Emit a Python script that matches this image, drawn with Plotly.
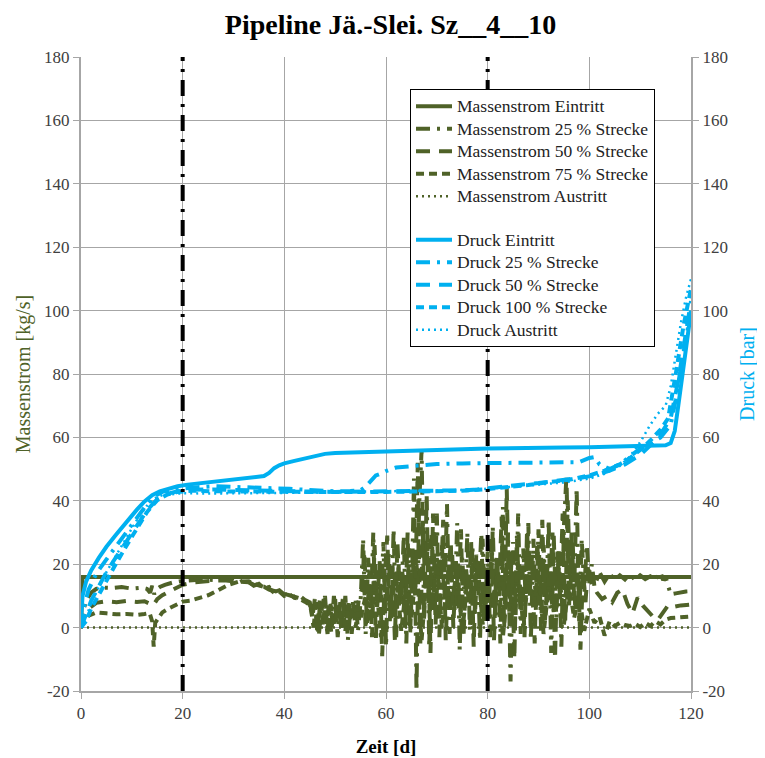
import plotly.graph_objects as go

OLIVE = "#4F6228"
BLUE = "#00B0F0"

# ---------------- data ----------------
ms_ein_t = [0, 0.3, 120]
ms_ein_v = [0, 16, 16]

ms_aus_t = [0, 120]
ms_aus_v = [0, 0]

ms25_t = [0, 0.4, 1, 2, 3, 4, 6, 8, 10, 12, 13, 13.6, 14, 14.4, 14.8, 15.5, 16.5, 18, 20, 22, 24, 26, 28, 30,
          31, 32, 33, 34, 35, 36, 37, 38, 39, 40, 41, 42, 43, 44, 45,
          45.5, 46, 46.5, 47, 47.5, 48, 48.5, 49, 49.5, 50, 50.5, 51, 51.5, 52, 52.5, 53, 53.5, 54, 54.5, 55,
          55.5, 56, 56.5, 57, 57.5, 58, 58.5, 59, 59.5, 60, 60.5, 61, 61.5, 62, 62.5, 63, 63.5, 64, 64.5, 65,
          65.5, 66, 66.5, 67, 67.5, 68, 68.5, 69, 69.5, 70, 70.5, 71, 71.5, 72, 72.5, 73, 73.5, 74, 74.5, 75,
          75.5, 76, 76.5, 77, 77.5, 78, 78.5, 79, 79.5, 80, 80.5, 81, 81.5, 82, 82.5, 83, 83.5, 84, 84.5, 85,
          85.5, 86, 86.5, 87, 87.5, 88, 88.5, 89, 89.5, 90, 90.5, 91, 91.5, 92, 92.5, 93, 93.5, 94, 94.5, 95,
          95.5, 96, 96.5, 97, 97.5, 98, 98.5, 99, 99.5, 100,
          100.5, 101, 102, 103, 104, 105, 106, 107, 108, 109, 110, 111, 112, 113, 114, 114.5, 115,
          116, 117, 118, 119, 120]
ms25_v = [0, 5, 8.5, 11, 12.2, 12.6, 12.5, 12.8, 12.3, 12.6, 12.2, 11.0, 13.2, 10.5, 12.0, 12.8, 13.5, 14.2, 14.7, 15.0, 15.2, 15.0, 15.1, 14.8,
          14.2, 14.9, 14.3, 13.2, 13.8, 12.4, 12.8, 11.2, 11.8, 10.4, 10.9, 9.6, 10.1, 8.8, 8.0,
          3, 9, -2, 7, 1, 10, -1, 6, 2, 9, -3, 8, 0, 10, -4, 6, 3, 9, -1, 8,
          28, -2, 22, 5, 30, -4, 18, 8, 27, -6, 24, 3, 31, -3, 20, 9, 29, -5, 25, 4,
          47, -20, 38, 56, 2, 42, -6, 30, 6, 36, -3, 26, 8, 39, -2, 24, 5, 33, -7, 22,
          7, 30, -1, 26, 4, 20, -4, 28, 6, 24, -3, 32, 3, 22, -5, 38, 6, 30, -17, 27,
          4, 36, -2, 25, 9, 33, -4, 28, 5, 31, -1, 26, 7, 34, -8, 29, 3, 25, -6, 32,
          48, 6, 30, 10, 44, 2, 28, 12, 26, 14,
          20, 13, 17.5, 14.5, 17, 15, 16.5, 15.2, 17, 15, 16.5, 15.3, 16.2, 15.2, 17.5, 15, 16,
          10.5, 10.8, 11.2, 11.4, 11.5]

ms50_t = [0, 0.5, 1.5, 3, 5, 7, 9, 11, 12.5, 13.5, 14.2, 15, 16, 17.5, 19, 20, 22, 24, 26, 28, 30, 32, 33,
          34, 35, 36, 37, 38, 39, 40, 41, 42, 43, 44, 45,
          45.25, 45.75, 46.25, 46.75, 47.25, 47.75, 48.25, 48.75, 49.25, 49.75, 50.25, 50.75, 51.25, 51.75,
          52.25, 52.75, 53.25, 53.75, 54.25, 54.75,
          55.25, 55.75, 56.25, 56.75, 57.25, 57.75, 58.25, 58.75, 59.25, 59.75, 60.25, 60.75, 61.25, 61.75,
          62.25, 62.75, 63.25, 63.75, 64.25, 64.75, 65.25, 65.75, 66.25, 66.75, 67.25, 67.75, 68.25, 68.75,
          69.25, 69.75, 70.25, 70.75, 71.25, 71.75, 72.25, 72.75, 73.25, 73.75, 74.25, 74.75, 75.25, 75.75,
          76.25, 76.75, 77.25, 77.75, 78.25, 78.75, 79.25, 79.75, 80.25, 80.75, 81.25, 81.75, 82.25, 82.75,
          83.25, 83.75, 84.25, 84.75, 85.25, 85.75, 86.25, 86.75, 87.25, 87.75, 88.25, 88.75, 89.25, 89.75,
          90.25, 90.75, 91.25, 91.75, 92.25, 92.75, 93.25, 93.75, 94.25, 94.75, 95.25, 95.75, 96.25, 96.75,
          97.25, 97.75, 98.25, 98.75, 99.25, 99.75,
          100.5, 101.5, 102.5, 103.5, 104.5, 105.5, 106.5, 107.5, 108.5, 109.5, 110.5, 111.5, 112.5, 113.5,
          114.5, 115.5, 116.5, 118, 120]
ms50_v = [0, 3, 6, 7.8, 8.3, 8.0, 8.4, 8.1, 8.3, 7.6, 7.0, 9.0, 10.2, 11.5, 12.8, 13.5, 14.2, 14.6, 14.8, 14.9, 14.7, 14.6, 14.3,
          13.5, 13.0, 12.9, 12.0, 11.6, 11.0, 10.6, 10.2, 9.8, 9.3, 8.6, 7.5,
          6, 0, 8, -3, 5, 9, 1, 7, -2, 10, 3, 6, -1, 8, 2, 9, -2, 7, 4, 10,
          12, 24, 1, 18, -3, 26, 6, 21, -9, 16, 29, 2, 19, -4, 27, 7, 17, 0, 30, -2, 21, 10, 52, -5, 34, 11, 28, -8,
          36, 1, 22, 12, 34, -4, 18, 27, 0, 21, 9, 31, -3, 19, 8, 27, -6, 23, 11, 30, 1, 18, 7, 28, -4, 22, 12, 35,
          0, 44, 5, 24, -10, 29, 8, 21, -3, 31, 10, 23, -5, 27, 7, 34, 1, 20, 11, 30, -10, 24, 9, 36, 2, 40, 12, 26,
          5, 22, -7, 18, 8, 20,
          14, 11, 9, 10, 8, 11, 12, 7.5, 4.5, 9.5, 7, 5, 3.5, 2.5, 5, 7, 6.5, 7, 7.3]

ms75_t = [0, 0.5, 1.5, 3, 5, 7, 9, 11, 12.5, 13.5, 14.0, 14.3, 14.6, 15.2, 16, 17, 18, 19, 20, 21.5, 23, 25, 27, 29, 31, 33,
          34, 35, 36, 37, 38, 39, 40, 41, 42, 43, 44, 45,
          45.5, 46, 46.5, 47, 47.5, 48, 48.5, 49, 49.5, 50, 50.5, 51, 51.5, 52, 52.5, 53, 53.5, 54, 54.5, 55,
          56, 57, 58, 59, 60, 61, 62, 63, 64, 65, 66, 67, 68, 69, 70, 71, 72, 73, 74, 75, 76, 77, 78, 79, 80,
          81, 82, 83, 84, 85, 86, 87, 88, 89, 90, 91, 92, 93, 94, 95, 96, 97, 98, 99, 100,
          101, 102, 103, 104, 105, 106, 107, 108, 109, 110, 111, 112, 113, 114, 115, 116, 118, 120]
ms75_v = [0, 2, 3.8, 4.8, 4.5, 4.2, 4.3, 4.0, 4.3, 4.6, 2.0, -6.0, 1.5, 3.0, 4.8, 5.8, 6.5, 7.5, 8.2, 8.5, 9.2, 10.2, 11.8, 13.5, 14.5, 14.6,
          13.8, 13.3, 12.6, 12.3, 11.0, 11.4, 10.0, 10.5, 9.4, 9.0, 8.2, 7.2,
          4, 7, 1, 9, 3, 5, -2, 8, 4, 1, 7, 3, 9, -1, 6, 2, 8, 0, 5, 3,
          10, 2, 15, -3, 12, 5, 18, -1, 14, 3, 20, -4, 16, 6, 22, 0, 13, 8, 19, -2, 15, 7, 21, 1, 12,
          9, 17, -3, 14, 4, 20, 0, 16, 6, 18, -2, 13, 5, 19, 1, 14, 3, 10, -1, 6,
          1.5, 3.5, -2.5, 2, 0.5, 1.5, 0.8, 0.5, 1.2, 0.2, 1.5, 0.5, 2, 1, 2.5, 3, 3.3, 3.5]

dr_ein_t = [0, 0.3, 1, 2, 3.5, 5, 7, 9, 11, 12.5, 14, 15.5, 17, 19, 21, 24, 27, 30, 33, 35, 36, 37, 38, 39, 40,
            42, 44, 46, 48, 50, 55, 60, 65, 70, 75, 80, 85, 90, 95, 100, 105, 110, 113, 115, 116, 116.8, 117.5,
            118.3, 119, 119.6, 120]
dr_ein_v = [2, 10, 14.5, 18, 22, 25.5, 29.5, 33.5, 37.2, 39.8, 41.8, 43, 43.8, 44.6, 45.1, 45.6, 46.2, 46.6, 47.2, 47.5,
            47.8, 48.8, 50.3, 51.2, 51.8, 52.6, 53.3, 54.3, 54.8, 55.1, 55.4, 55.7, 56.0, 56.2, 56.3, 56.5, 56.5, 56.6,
            56.8, 56.9, 57.0, 57.2, 57.3, 57.5, 58.2, 62, 70, 80, 88, 95, 98]

dr25_t = [0, 0.5, 1.5, 3, 5, 7, 9, 11, 13, 14.5, 16, 18, 20, 23, 26, 29, 32, 35, 38, 41, 44, 47, 50, 53, 55, 56, 57,
          58, 59, 60, 62, 64, 66, 70, 75, 80, 85, 90, 95, 98, 100, 101, 102, 103, 104, 106, 108, 110, 112, 114,
          116, 117, 118, 119, 120]
dr25_v = [0, 6, 12, 17, 21.5, 26, 30.5, 35, 39, 41.5, 42.8, 43.6, 44.0, 44.3, 44.6, 44.5, 44.4, 44.2, 44.0, 43.8, 43.5,
          43.2, 43.0, 43.1, 43.3, 44.5, 46.5, 48.0, 48.6, 49.4, 50.5, 50.8, 51.3, 51.6, 51.8, 51.9, 52.0, 52.1, 52.3,
          52.2, 53.5, 53.8, 51.5, 50.6, 50.0, 51.5, 54.0, 56.5, 58, 60, 64, 72, 82, 92, 100]

dr50_t = [0, 0.7, 2, 3.5, 5, 7, 9, 11, 13, 15, 17, 19, 22, 26, 30, 35, 40, 45, 50, 55, 60, 65, 70, 75, 78, 80, 83,
          86, 90, 94, 98, 101, 104, 107, 110, 112, 114, 116, 117.5, 119, 120]
dr50_v = [0, 3, 8.5, 13, 17.5, 22.5, 27.5, 32.5, 37, 40.5, 42.2, 43.0, 43.5, 43.6, 43.4, 43.2, 43.0, 42.9, 42.8, 42.9,
          42.9, 43.0, 43.1, 43.3, 43.6, 44.0, 44.6, 45.0, 45.6, 46.3, 47.2, 48.0, 49.5, 51.5, 54.5, 57.5, 61, 66, 78,
          93, 103]

dr100_t = [0, 1, 2, 3.5, 5, 7, 9, 11, 13, 15, 17, 19, 22, 26, 30, 35, 40, 45, 50, 55, 60, 65, 70, 75, 80, 84, 88,
           92, 96, 100, 103, 106, 108, 110, 112, 114, 115.5, 117, 118.5, 120]
dr100_v = [0, 2, 6, 10.5, 15, 20.5, 26, 31.5, 36.5, 40.2, 42.0, 42.8, 43.2, 43.0, 42.9, 42.8, 42.9, 42.8, 42.8, 42.7,
           42.8, 42.9, 43.0, 43.2, 43.7, 44.3, 45.0, 45.9, 46.6, 48.0, 49.5, 51.5, 53.5, 56.0, 59, 62.5, 66, 80, 95,
           107]

dr_aus_t = [0, 1, 2, 3.5, 5, 7, 9, 11, 13, 14.5, 16, 18, 20, 25, 30, 35, 40, 45, 50, 55, 60, 65, 70, 75, 80, 85,
            90, 95, 100, 103, 106, 108, 110, 112, 113.5, 115, 116, 117, 118, 119, 120]
dr_aus_v = [0, 3, 8, 13, 17.5, 23, 28.5, 34, 38.5, 40.8, 41.8, 42.2, 42.4, 42.3, 42.3, 42.4, 42.5, 42.6, 42.7, 42.8,
            42.9, 43.0, 43.2, 43.4, 43.8, 44.4, 45.0, 45.8, 47.0, 48.5, 51.0, 54.0, 58.5, 64.0, 67.5, 70, 76, 86,
            96, 104, 110]

event_days = [20, 80]

x_ticks = [0, 20, 40, 60, 80, 100, 120]
y_ticks = [-20, 0, 20, 40, 60, 80, 100, 120, 140, 160, 180]
y_tick_text = ["-20", "0", "20", "40", "60", "80", "100", "120", "140", "160", "180"]

# ---------------- figure ----------------
FONT = "Liberation Serif"
W = 4

fig = go.Figure()


def legend_label(text):
    return "<span style='font-size:17.5px'>" + text + "</span>"


mass_series = [
    ("Massenstrom Eintritt", ms_ein_t, ms_ein_v, "solid", W),
    ("Massenstrom 25 % Strecke", ms25_t, ms25_v, "14px,7px,3px,7px", W),
    ("Massenstrom 50 % Strecke", ms50_t, ms50_v, "14px,9px", W),
    ("Massenstrom 75 % Strecke", ms75_t, ms75_v, "8px,5px", W),
    ("Massenstrom Austritt", ms_aus_t, ms_aus_v, "2px,4px", 2.5),
]
for name, t, v, dash, w in mass_series:
    fig.add_trace(go.Scatter(x=t, y=v, mode="lines", name=legend_label(name), legendgroup="m",
                             line=dict(color=OLIVE, width=w, dash=dash), yaxis="y"))

druck_series = [
    ("Druck Eintritt", dr_ein_t, dr_ein_v, "solid", W),
    ("Druck 25 % Strecke", dr25_t, dr25_v, "14px,7px,3px,7px", W),
    ("Druck 50 % Strecke", dr50_t, dr50_v, "14px,9px", W),
    ("Druck 100 % Strecke", dr100_t, dr100_v, "8px,5px", W),
    ("Druck Austritt", dr_aus_t, dr_aus_v, "2px,4px", 2.5),
]
for name, t, v, dash, w in druck_series:
    fig.add_trace(go.Scatter(x=t, y=v, mode="lines", name=legend_label(name), legendgroup="d",
                             line=dict(color=BLUE, width=w, dash=dash), yaxis="y2"))

for d in event_days:
    fig.add_vline(x=d, line=dict(color="black", width=4, dash="16px,8px,3px,8px"), layer="above")

GRID = "#a6a6a6"
TICKC = "#404040"
axis_common = dict(showgrid=True, gridcolor=GRID, gridwidth=1, showline=True, linecolor=GRID, linewidth=2,
                   ticks="outside", ticklen=6, tickcolor=GRID, zeroline=False, automargin=False,
                   tickfont=dict(family=FONT, size=17, color=TICKC))

fig.update_layout(
    width=765, height=758,
    margin=dict(l=73, r=82, t=49, b=75, autoexpand=False),
    paper_bgcolor="white", plot_bgcolor="white",
    title=dict(text="<b>Pipeline Jä.-Slei. Sz__4__10</b>", x=0.5, xanchor="center", y=1 - 6 / 758,
               yanchor="top", yref="container", automargin=False, pad=dict(t=0, b=0),
               font=dict(family=FONT, size=28, color="black")),
    xaxis=dict(range=[0, 120], tickvals=x_ticks, **axis_common,
               title=dict(text="<b>Zeit [d]</b>", font=dict(family=FONT, size=19, color="black"), standoff=17)),
    yaxis=dict(range=[-20, 180], tickvals=y_ticks, ticktext=y_tick_text, **axis_common,
               title=dict(text="Massenstrom [kg/s]", font=dict(family=FONT, size=20, color=OLIVE), standoff=8)),
    yaxis2=dict(range=[-20, 180], tickvals=y_ticks, ticktext=y_tick_text, overlaying="y", side="right",
                **axis_common,
                title=dict(text="Druck [bar]", font=dict(family=FONT, size=20, color=BLUE), standoff=13)),
    legend=dict(x=(410 - 81) / 610, y=(691 - 89) / 634, xanchor="left", yanchor="top", bgcolor="white",
                bordercolor="black", borderwidth=1, traceorder="grouped", tracegroupgap=21, itemwidth=36,
                font=dict(family=FONT, size=15, color="#222")),
    showlegend=True,
)
fig.update_yaxes(showgrid=False, selector=dict(overlaying="y"))

fig.write_html("out.html")
